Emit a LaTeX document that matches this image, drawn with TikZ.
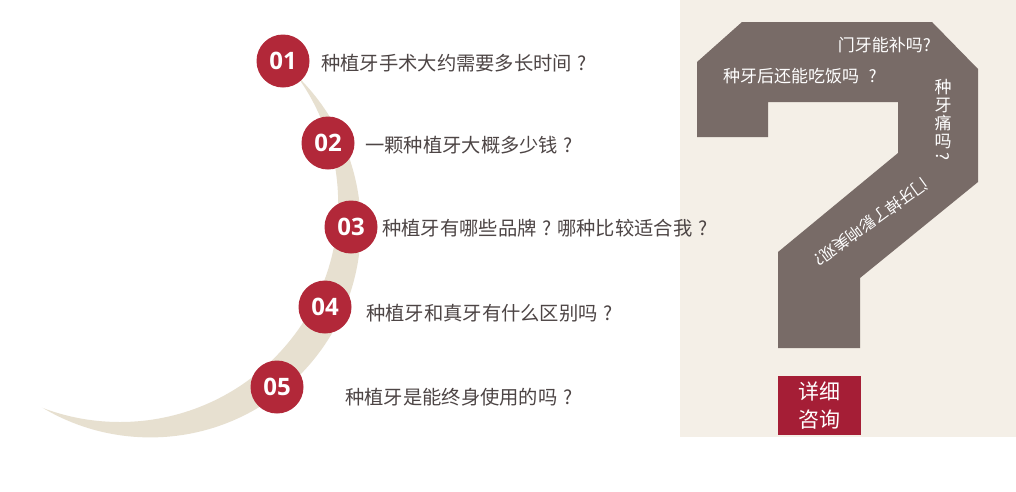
\documentclass[tikz,border=0pt]{standalone}
\usepackage{fontspec}
\newfontfamily\cjk{Noto Sans CJK SC}
\newfontfamily\numfont{Open Sans}
\usepackage{graphicx}
\newcommand\myqm{\hspace{0.3em}?}
\definecolor{redc}{HTML}{B22839}
\definecolor{boxred}{HTML}{A51E36}
\definecolor{cres}{HTML}{E7E0D0}
\definecolor{panel}{HTML}{F4EFE7}
\definecolor{qshape}{HTML}{786B67}
\definecolor{txt}{HTML}{4D4545}
\tikzset{
  numc/.style={circle, fill=redc, minimum size=53pt, inner sep=0pt, text=white,
    font=\numfont\bfseries\fontsize{24}{24}\selectfont},
  qtext/.style={anchor=west, inner sep=0pt, text=txt, font=\cjk\fontsize{19.3}{20}\selectfont},
  wtext/.style={inner sep=0pt, text=white, font=\cjk\fontsize{17}{18}\selectfont},
}
\begin{document}
\begin{tikzpicture}[x=1pt,y=-1pt]
\useasboundingbox (0,0) rectangle (1016,491);
\fill[white] (0,0) rectangle (1016,491);
% right panel
\fill[panel] (680,0) rectangle (1016,437);
% crescent
\begin{scope}
\clip (150.3,226.9) circle[radius=210.5pt];
\fill[cres, even odd rule] (-300,-300) rectangle (1300,800) (119.9,203.7) circle[radius=218.3pt];
\end{scope}
% question mark shape
\fill[qshape] (742,22) -- (932,22) -- (978,69) -- (978,182) -- (860,278) -- (860,348)
  -- (778,348) -- (778,252) -- (898,153) -- (898,102) -- (768,102) -- (768,137)
  -- (697,137) -- (697,62) -- cycle;
\node[wtext, anchor=east] (q1) at (931,45) {门牙能补吗?};
\node[wtext, anchor=west] (q2) at (723,76) {种牙后还能吃饭吗\hspace{0.55em}?};
\node[wtext, align=center, anchor=north] (q3) at (943,79) {种\\牙\\痛\\吗\\[-3pt]\rotatebox[origin=c]{-90}{?}};
\node[wtext, rotate=216, font=\cjk\fontsize{16}{18}\selectfont] (q4) at (871,222) {门牙掉了影响美观?};
% consult box
\node[fill=boxred, minimum width=83pt, minimum height=59pt, inner sep=0pt, align=center,
  text=white, font=\cjk\fontsize{21}{28}\selectfont] (btn) at (819.5,405.5) {详细\\咨询};
% numbered items
\node[numc] (c1) at (283,61) {01};
\node[numc] (c2) at (328,143) {02};
\node[numc] (c3) at (351,227) {03};
\node[numc] (c4) at (325,307) {04};
\node[numc] (c5) at (277,387) {05};
\node[qtext] (t1) at (321,63) {种植牙手术大约需要多长时间\myqm};
\node[qtext] (t2) at (365,145) {一颗种植牙大概多少钱\myqm};
\node[qtext] (t3) at (382,228) {种植牙有哪些品牌\myqm\hspace{0.3em}哪种比较适合我\myqm};
\node[qtext] (t4) at (366,313) {种植牙和真牙有什么区别吗\myqm};
\node[qtext] (t5) at (345,397) {种植牙是能终身使用的吗\myqm};
\end{tikzpicture}
\end{document}
